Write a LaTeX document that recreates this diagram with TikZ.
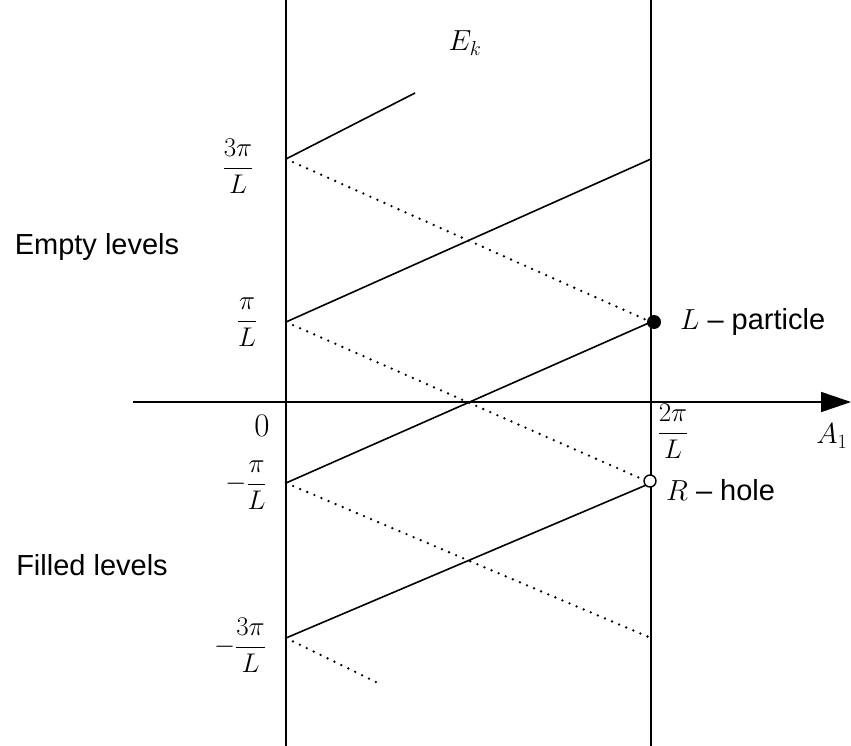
\RequirePackage{fix-cm}
\documentclass[tikz,border=0pt]{standalone}
\usepackage[no-math]{fontspec}
\setmainfont{Liberation Sans}
\usetikzlibrary{arrows.meta}
\begin{document}
\begin{tikzpicture}[x=1pt,y=-1pt,line width=1.6pt,
  font=\fontsize{29}{35}\selectfont,
  gap/.style={line width=2.6pt,dash pattern=on 0pt off 7.7pt,line cap=round},
  frc/.style={font=\fontsize{27}{32}\selectfont}]
  \useasboundingbox (0,0) rectangle (851,746);
  % the two walls
  \coordinate (wl0) at (286,0);
  \coordinate (wl1) at (286,746);
  \coordinate (wr0) at (651,0);
  \coordinate (wr1) at (651,746);
  \draw (wl0)--(wl1);
  \draw (wr0)--(wr1);
  % levels on the walls
  \coordinate (p3) at (286,159);
  \coordinate (p1) at (286,322);
  \coordinate (m1) at (286,483);
  \coordinate (m3) at (286,638);
  \coordinate (q3) at (651,159);
  \coordinate (q1) at (651,322);
  \coordinate (n1) at (651,483);
  \coordinate (n3) at (651,638);
  \coordinate (up) at (415,93);
  \coordinate (dn) at (378,683);
  % axis
  \coordinate (ax0) at (133,402);
  \coordinate (ax1) at (851,402);
  \draw[-{Triangle[length=30pt,width=20pt]}] (ax0)--(ax1);
  % spectral flow
  \draw (p3)--(up);
  \draw (p1)--(q3);
  \draw (m1)--(q1);
  \draw (m3)--(n1);
  \draw[gap] (p3)--(q1);
  \draw[gap] (p1)--(n1);
  \draw[gap] (m1)--(n3);
  \draw[gap] (m3)--(dn);
  \node[circle,fill,inner sep=0,minimum size=14pt] (part) at (654,322) {};
  \node[circle,draw,fill=white,line width=1.4pt,inner sep=0,
    minimum size=12pt] (hole) at (650,481) {};
  % labels
  \node (ek) at (465,43) {$E_k$};
  \node (emp) at (97,247) {Empty levels};
  \node (fil) at (92,565) {Filled levels};
  \node[font=\fontsize{33}{38}\selectfont] (zero) at (262,426) {$0$};
  \node (a1) at (832,436) {$A_1$};
  \node[frc] (t3) at (238,166) {$\displaystyle\frac{3\pi}{L}$};
  \node[frc] (t1) at (247,322) {$\displaystyle\frac{\pi}{L}$};
  \node[frc] (b1) at (246,485) {$\displaystyle-\frac{\pi}{L}$};
  \node[frc] (b3) at (240,645) {$\displaystyle-\frac{3\pi}{L}$};
  \node[frc] (t2) at (673,431) {$\displaystyle\frac{2\pi}{L}$};
  \node[anchor=west] (lp) at (676,322) {$L$ -- particle};
  \node[anchor=west] (rh) at (662,490) {$R$ -- hole};
\end{tikzpicture}
\end{document}
